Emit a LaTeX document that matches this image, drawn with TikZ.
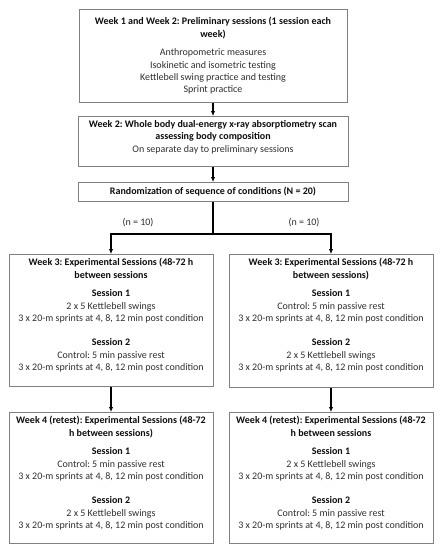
\documentclass[tikz,border=0pt]{standalone}
\usepackage{fontspec}
\setmainfont{Carlito}
\usetikzlibrary{arrows.meta}
\definecolor{boxgray}{gray}{0.5}
\colorlet{txtgray}{black!82}
\tikzset{
  >=latex,
  box/.style={draw=boxgray, line width=0.8pt, rectangle, anchor=north,
    inner xsep=0pt, inner ysep=4pt, text=txtgray, font=\fontsize{10}{12.4}\selectfont},
  arrow/.style={-{Latex[length=5pt,width=4.5pt]}, line width=1.2pt},
  connect/.style={line width=1.2pt},
  ntext/.style={text=txtgray, font=\fontsize{10}{12}\selectfont}
}
% bold heading line, and the box body (position, height, width, text)
\newcommand{\hd}[1]{{\fontsize{10}{12.4}\selectfont\bfseries\color{black!95}#1}}
\newcommand{\boxbody}[4]{\parbox[c][#2][#1]{#3}{\frenchspacing\centering #4}}

\begin{document}
\begin{tikzpicture}[x=1pt,y=-1pt]
\useasboundingbox (0,0) rectangle (442,550);

% The boxes
\node[box] (prelim) at (213,9) {\boxbody{c}{85pt}{268pt}{%
  \hd{Week 1 and Week 2: Preliminary sessions (1 session each}\\ \hd{week)}\\[6pt]
  Anthropometric measures\\ Isokinetic and isometric testing\\
  Kettlebell swing practice and testing\\ Sprint practice}};
\node[box] (dxa) at (213,116) {\boxbody{t}{42pt}{270pt}{%
  \hd{Week 2: Whole body dual-energy x-ray absorptiometry scan}\\
  \hd{assessing body composition}\\ On separate day to preliminary sessions}};
\node[box] (rand) at (213,182) {\boxbody{c}{11pt}{270pt}{%
  \hd{Randomization of sequence of conditions (N = 20)}}};

\node[box] (w3a) at (111,254) {\boxbody{t}{124pt}{204pt}{%
  \hd{Week 3: Experimental Sessions (48-72 h}\\ \hd{between sessions}\\[6pt]
  \hd{Session 1}\\ 2 x 5 Kettlebell swings\\ 3 x 20-m sprints at 4, 8, 12 min post condition\\[12pt]
  \hd{Session 2}\\ Control: 5 min passive rest\\ 3 x 20-m sprints at 4, 8, 12 min post condition}};
\node[box] (w3b) at (331,254) {\boxbody{t}{125pt}{204pt}{%
  \hd{Week 3: Experimental Sessions (48-72 h}\\ \hd{between sessions)}\\[6pt]
  \hd{Session 1}\\ Control: 5 min passive rest\\ 3 x 20-m sprints at 4, 8, 12 min post condition\\[12pt]
  \hd{Session 2}\\ 2 x 5 Kettlebell swings\\ 3 x 20-m sprints at 4, 8, 12 min post condition}};

\node[box] (w4a) at (111,412) {\boxbody{t}{123pt}{204pt}{%
  \hd{Week 4 (retest): Experimental Sessions (48-72}\\ \hd{h between sessions)}\\[6pt]
  \hd{Session 1}\\ Control: 5 min passive rest\\ 3 x 20-m sprints at 4, 8, 12 min post condition\\[12pt]
  \hd{Session 2}\\ 2 x 5 Kettlebell swings\\ 3 x 20-m sprints at 4, 8, 12 min post condition}};
\node[box] (w4b) at (331,412) {\boxbody{t}{123pt}{204pt}{%
  \hd{Week 4 (retest): Experimental Sessions (48-72}\\ \hd{h between sessions}\\[6pt]
  \hd{Session 1}\\ 2 x 5 Kettlebell swings\\ 3 x 20-m sprints at 4, 8, 12 min post condition\\[12pt]
  \hd{Session 2}\\ Control: 5 min passive rest\\ 3 x 20-m sprints at 4, 8, 12 min post condition}};

% The group sizes
\node[ntext] (na) at (138,223) {(n = 10)};
\node[ntext] (nb) at (304,223) {(n = 10)};

% The connections
\coordinate (fork) at (213,234);
\draw[arrow] (prelim) -- (dxa);
\draw[arrow] (dxa) -- (rand);
\draw[connect] (rand) -- (fork);
\draw[arrow] (fork) -| (w3a.north);
\draw[arrow] (fork) -| (w3b.north);
\draw[arrow] (w3a) -- (w4a);
\draw[arrow] (w3b) -- (w4b);

\end{tikzpicture}
\end{document}
